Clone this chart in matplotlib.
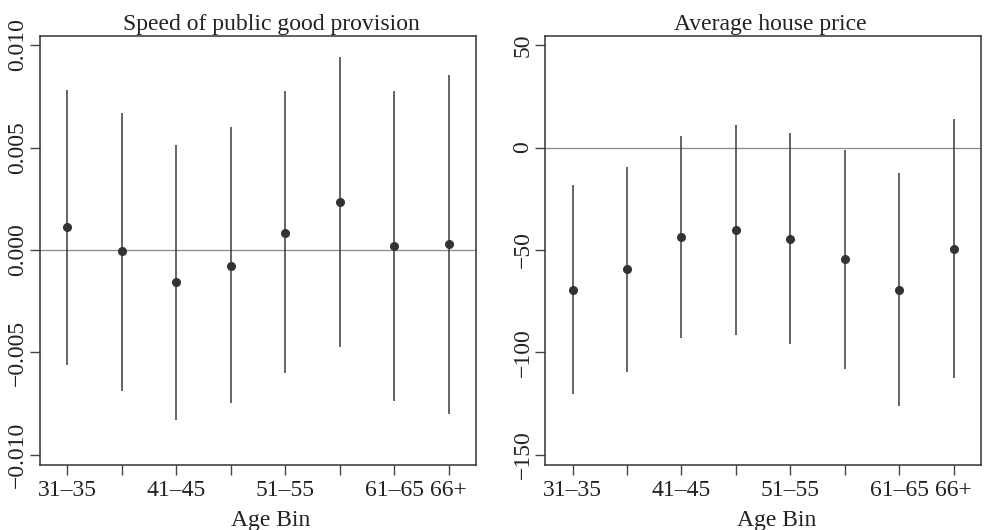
import numpy as np
import matplotlib.pyplot as plt

plt.rcParams['font.family'] = ['Liberation Serif', 'DejaVu Serif']

# age bins (one per point), labels only on some ticks as in the original
bins = ["31–35", "36–40", "41–45", "46–50", "51–55", "56–60", "61–65", "66+"]
xlabels = ["31–35", "", "41–45", "", "51–55", "", "61–65", "66+"]

# panel 1: speed of public good provision
speed_est = [0.0011, -0.00003, -0.00158, -0.00076, 0.00084, 0.00234, 0.00020, 0.00028]
speed_hi = [0.0078, 0.0067, 0.00514, 0.0060, 0.00774, 0.00941, 0.00774, 0.00854]
speed_lo = [-0.0056, -0.0069, -0.00831, -0.00745, -0.00602, -0.00472, -0.00735, -0.00799]
speed_ticks = [-0.010, -0.005, 0.0, 0.005, 0.010]
speed_ticklabels = ["−0.010", "−0.005", "0.000", "0.005", "0.010"]

# panel 2: average house price
price_est = [-69.4, -59.4, -43.7, -40.1, -44.5, -54.4, -69.4, -49.4]
price_hi = [-18.4, -9.7, 5.6, 11.1, 7.1, -1.4, -12.4, 13.9]
price_lo = [-120.4, -109.4, -92.8, -91.3, -95.9, -107.9, -126.3, -112.3]
price_ticks = [-150, -100, -50, 0, 50]
price_ticklabels = ["−150", "−100", "−50", "0", "50"]

W, H = 987, 530
fig = plt.figure(figsize=(W / 100, H / 100), dpi=100)
ax1 = fig.add_axes([40 / W, (H - 465) / H, 436 / W, 429 / H])
ax2 = fig.add_axes([545.3 / W, (H - 465) / H, 435.7 / W, 429 / H])

x = np.arange(1, len(bins) + 1)
dark = "#333333"


def panel(ax, est, lo, hi, ticks, ticklabels, ylim, title, tx, lx):
    ax.axhline(0, color="#8a8a8a", lw=0.9, zorder=1)
    ax.vlines(x, lo, hi, color="#3a3a3a", lw=1.1, zorder=2)
    ax.plot(x, est, "o", color=dark, ms=5.5, zorder=3)
    ax.set_xlim(0.5, 8.5)
    ax.set_ylim(*ylim)
    ax.set_xticks(x)
    ax.set_xticklabels(xlabels, fontsize=17)
    ax.set_yticks(ticks)
    ax.set_yticklabels(ticklabels, fontsize=17, rotation=90, va="center")
    ax.tick_params(length=7, width=1, color="#444444", colors="#222222")
    ax.tick_params(axis="x", pad=4)
    ax.tick_params(axis="y", pad=1.5)
    for s in ax.spines.values():
        s.set_color("#333333")
        s.set_linewidth(1.1)
    ax.set_title(title, fontsize=17, color="#222222", pad=4.5, x=tx)
    ax.set_xlabel("Age Bin", fontsize=17, color="#222222")
    ax.xaxis.set_label_coords(lx, -0.105)


panel(ax1, speed_est, speed_lo, speed_hi, speed_ticks, speed_ticklabels,
      (-0.01049, 0.01044), "Speed of public good provision", 0.530, 0.528)
panel(ax2, price_est, price_lo, price_hi, price_ticks, price_ticklabels,
      (-154.9, 54.4), "Average house price", 0.516, 0.530)

fig.savefig("out.png", dpi=100)
